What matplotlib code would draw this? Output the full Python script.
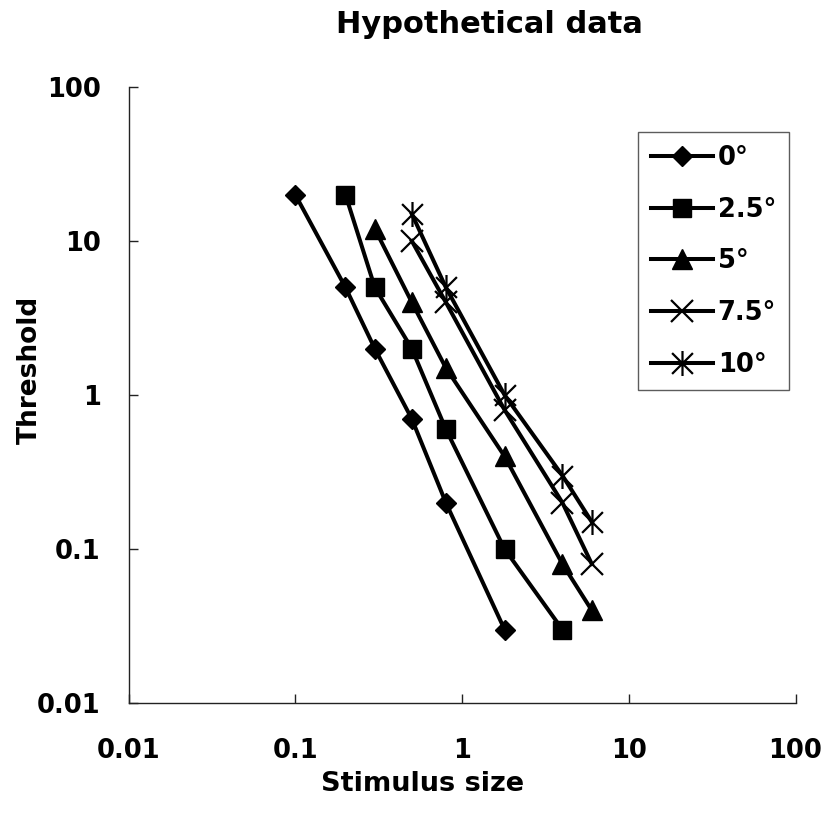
import matplotlib
matplotlib.use("Agg")
import matplotlib.pyplot as plt
from matplotlib.path import Path
from matplotlib.ticker import FixedLocator, NullLocator, FixedFormatter

# ---- data ----
labels = ["0°", "2.5°", "5°", "7.5°", "10°"]
x_0 = [0.1, 0.2, 0.3, 0.5, 0.8, 1.8]
y_0 = [20, 5, 2, 0.7, 0.2, 0.03]
x_25 = [0.2, 0.3, 0.5, 0.8, 1.8, 4]
y_25 = [20, 5, 2, 0.6, 0.1, 0.03]
x_5 = [0.3, 0.5, 0.8, 1.8, 4, 6]
y_5 = [12, 4, 1.5, 0.4, 0.08, 0.04]
x_75 = [0.5, 0.8, 1.8, 4, 6]
y_75 = [10, 4, 0.8, 0.2, 0.08]
x_10 = [0.5, 0.8, 1.8, 4, 6]
y_10 = [15, 5, 1, 0.3, 0.15]
tick_vals = [0.01, 0.1, 1, 10, 100]
tick_labels = ["0.01", "0.1", "1", "10", "100"]

plt.rcParams['font.family'] = ['DejaVu Sans']
plt.rcParams['font.weight'] = 'bold'

fig = plt.figure(figsize=(8.24, 8.15), dpi=100)
ax = fig.add_axes([128.5/824, 1-703/815, (795.5-128.5)/824, (703-87)/815])

# asterisk marker: X plus vertical bar
ast = Path([(-1, -1), (1, 1), (-1, 1), (1, -1), (0, -1.2), (0, 1.2)],
           [Path.MOVETO, Path.LINETO, Path.MOVETO, Path.LINETO, Path.MOVETO, Path.LINETO])

lw = 2.9
common = dict(color='black', lw=lw, mfc='black', mec='black')
ax.plot(x_0, y_0, marker='D', ms=10.5, mew=1, label=labels[0], **common)
ax.plot(x_25, y_25, marker='s', ms=13.5, mew=1, label=labels[1], **common)
ax.plot(x_5, y_5, marker='^', ms=15, mew=1, label=labels[2], **common)
ax.plot(x_75, y_75, marker='x', ms=16, mew=1.6, label=labels[3], **common)
ax.plot(x_10, y_10, marker=ast, ms=18, mew=1.6, label=labels[4], **common)

ax.set_xscale('log')
ax.set_yscale('log')
ax.set_xlim(0.01, 100)
ax.set_ylim(0.01, 100)
for axis in (ax.xaxis, ax.yaxis):
    axis.set_major_locator(FixedLocator(tick_vals))
    axis.set_major_formatter(FixedFormatter(tick_labels))
    axis.set_minor_locator(NullLocator())

ax.spines['top'].set_visible(False)
ax.spines['right'].set_visible(False)
for s in ('left', 'bottom'):
    ax.spines[s].set_linewidth(1.0)
    ax.spines[s].set_color('#222222')
ax.tick_params(axis='both', direction='in', length=6.5, width=1.0, color='#222222',
               labelsize=18.5)
ax.tick_params(axis='x', pad=25)
ax.tick_params(axis='y', pad=20)
for lab in ax.get_xticklabels() + ax.get_yticklabels():
    lab.set_fontweight('bold')

fig.text(489/824, 1-33/815, "Hypothetical data", ha='center', va='baseline',
         fontsize=22, fontweight='bold')
fig.text(423/824, 1-791/815, "Stimulus size", ha='center', va='baseline',
         fontsize=19.5, fontweight='bold')
fig.text(43/824, 1-370/815, "Threshold", ha='right', va='center', rotation=90,
         fontsize=19, fontweight='bold')

leg = ax.legend(loc='upper left', bbox_to_anchor=(638/824, 1-132/815),
                bbox_transform=fig.transFigure, borderaxespad=0,
                frameon=True, fancybox=False, shadow=False,
                prop={'size': 18.5, 'weight': 'bold'},
                handlelength=2.4, handletextpad=0.2, labelspacing=1.0,
                borderpad=0.5)
leg.get_frame().set_edgecolor('#333333')
leg.get_frame().set_linewidth(1.0)

fig.savefig("out.png", dpi=100)
